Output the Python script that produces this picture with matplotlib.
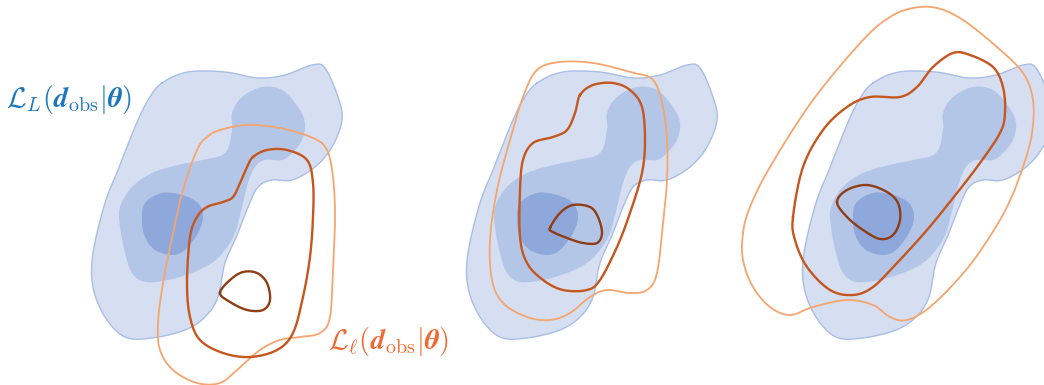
import numpy as np
import matplotlib
matplotlib.use("Agg")
import matplotlib.pyplot as plt

plt.rcParams['mathtext.fontset'] = 'cm'

# ---- data: contour outlines (pixel coords of the schematic) ----
# Blue "L_L" contours, given for the middle panel; repeated with per-panel shifts
blue_outer_x = [537, 563, 600, 633, 660, 687, 700, 713, 717, 707, 690, 667, 647, 633, 623, 613, 600, 593, 580, 560, 527, 500, 480, 468, 468, 480, 493, 510, 523]
blue_outer_y = [83, 72, 72, 78, 75, 65, 68, 97, 120, 147, 167, 180, 180, 187, 207, 233, 263, 297, 317, 330, 338, 337, 317, 287, 253, 203, 170, 127, 100]
blue_mid_x = [607, 617, 637, 657, 673, 680, 677, 667, 657, 640, 630, 623, 617, 610, 600, 587, 567, 543, 520, 507, 500, 495, 495, 507, 527, 553, 577, 600, 607]
blue_mid_y = [113, 97, 87, 90, 107, 123, 140, 153, 160, 160, 167, 183, 207, 233, 250, 263, 273, 280, 282, 273, 253, 227, 207, 187, 173, 165, 160, 153, 130]
blue_core_x = [520, 537, 557, 573, 578, 573, 560, 547, 530, 520, 517]
blue_core_y = [203, 193, 195, 203, 217, 233, 250, 255, 250, 237, 220]
panel_shift = [-375, 0, 336]

# Orange "L_ell" contours, one set per panel
p1_light_x = [220, 247, 280, 313, 327, 333, 335, 333, 330, 320, 300, 280, 260, 237, 220, 197, 173, 160, 158, 163, 173, 183, 197, 207]
p1_light_y = [130, 125, 128, 138, 150, 177, 217, 267, 317, 333, 337, 340, 350, 370, 383, 383, 370, 350, 323, 283, 233, 190, 150, 137]
p1_dark_x = [253, 267, 287, 307, 313, 313, 310, 303, 293, 277, 250, 223, 200, 190, 187, 190, 197, 207, 223, 233, 240, 247]
p1_dark_y = [157, 150, 150, 160, 183, 217, 257, 297, 333, 350, 357, 353, 340, 317, 283, 237, 217, 207, 202, 197, 183, 167]
p1_core_x = [220, 230, 243, 257, 267, 270, 263, 247, 230]
p1_core_y = [293, 280, 272, 273, 283, 300, 310, 310, 302]

p2_light_x = [537, 560, 593, 630, 653, 663, 667, 667, 663, 657, 647, 630, 607, 590, 570, 550, 527, 503, 492, 490, 497, 510, 523]
p2_light_y = [70, 62, 63, 72, 80, 107, 140, 180, 223, 273, 290, 293, 290, 297, 313, 320, 317, 303, 280, 240, 190, 140, 97]
p2_dark_x = [580, 593, 613, 630, 642, 645, 642, 630, 617, 600, 587, 563, 543, 527, 520, 520, 523, 533, 553, 567, 575]
p2_dark_y = [95, 85, 83, 90, 107, 140, 173, 213, 247, 280, 290, 290, 280, 263, 237, 190, 160, 143, 137, 130, 113]
p2_core_x = [550, 560, 573, 590, 598, 602, 597, 583, 567, 553]
p2_core_y = [228, 213, 205, 207, 217, 233, 243, 243, 238, 232]

p3_light_x = [743, 750, 770, 813, 863, 890, 913, 937, 963, 997, 1023, 1033, 1032, 1023, 1007, 983, 960, 930, 907, 890, 873, 847, 813, 790, 770, 753, 743]
p3_light_y = [233, 207, 167, 100, 40, 17, 8, 8, 20, 47, 73, 100, 133, 167, 207, 247, 277, 307, 320, 317, 305, 300, 307, 315, 307, 287, 260]
p3_dark_x = [793, 803, 823, 847, 870, 900, 917, 933, 953, 970, 993, 1003, 1005, 1000, 980, 957, 927, 897, 873, 853, 830, 807, 795]
p3_dark_y = [217, 167, 130, 107, 97, 97, 87, 67, 53, 55, 67, 87, 113, 133, 163, 193, 230, 263, 287, 295, 290, 267, 240]
p3_core_x = [837, 847, 867, 887, 898, 900, 893, 880, 863, 847]
p3_core_y = [202, 190, 185, 192, 203, 220, 235, 239, 230, 217]

label_big = r'$\mathcal{L}_L(\boldsymbol{d}_{\rm obs}|\boldsymbol{\theta})$'
label_small = r'$\mathcal{L}_\ell(\boldsymbol{d}_{\rm obs}|\boldsymbol{\theta})$'


def smooth_closed(xs, ys, n=24):
    """Periodic Catmull-Rom spline through the outline points."""
    P = np.column_stack([xs, ys]).astype(float)
    m = len(P)
    out = []
    t = np.linspace(0, 1, n, endpoint=False)[:, None]
    for i in range(m):
        p0, p1, p2, p3 = P[(i - 1) % m], P[i], P[(i + 1) % m], P[(i + 2) % m]
        seg = 0.5 * ((2 * p1) + (-p0 + p2) * t + (2 * p0 - 5 * p1 + 4 * p2 - p3) * t ** 2
                     + (-p0 + 3 * p1 - 3 * p2 + p3) * t ** 3)
        out.append(seg)
    out = np.vstack(out)
    return np.vstack([out, out[:1]])


fig = plt.figure(figsize=(10.44, 3.85), dpi=100)
ax = fig.add_axes([0, 0, 1, 1])
ax.set_xlim(0, 1044)
ax.set_ylim(385, 0)
ax.axis('off')

c_outer, c_edge = '#D6DFF1', '#A9BEE5'
c_mid, c_core = '#B4C6E7', '#8FA8DB'
c_light, c_dark, c_inner = '#F5A56E', '#C5571E', '#8F3D14'

for dx in panel_shift:
    s = smooth_closed(np.array(blue_outer_x) + dx, blue_outer_y)
    ax.fill(s[:, 0], s[:, 1], color=c_outer, lw=0, zorder=1)
    ax.plot(s[:, 0], s[:, 1], color=c_edge, lw=1.0, zorder=1.5)
    s = smooth_closed(np.array(blue_mid_x) + dx, blue_mid_y)
    ax.fill(s[:, 0], s[:, 1], color=c_mid, lw=0, zorder=2)
    s = smooth_closed(np.array(blue_core_x) + dx, blue_core_y)
    ax.fill(s[:, 0], s[:, 1], color=c_core, lw=0, zorder=3)

panels = [
    (p1_light_x, p1_light_y, p1_dark_x, p1_dark_y, p1_core_x, p1_core_y),
    (p2_light_x, p2_light_y, p2_dark_x, p2_dark_y, p2_core_x, p2_core_y),
    (p3_light_x, p3_light_y, p3_dark_x, p3_dark_y, p3_core_x, p3_core_y),
]
for lx, ly, dkx, dky, cx, cy in panels:
    s = smooth_closed(lx, ly)
    ax.plot(s[:, 0], s[:, 1], color=c_light, lw=1.3, zorder=4)
    s = smooth_closed(dkx, dky)
    ax.plot(s[:, 0], s[:, 1], color=c_dark, lw=1.7, zorder=5)
    s = smooth_closed(cx, cy)
    ax.plot(s[:, 0], s[:, 1], color=c_inner, lw=1.7, zorder=6)

ax.text(6, 100, label_big, color='#1C76BD', fontsize=20.5, va='center', ha='left', zorder=7)
ax.text(328, 341, label_small, color='#EF6A33', fontsize=20.5, va='center', ha='left', zorder=7)

fig.savefig('out.png', dpi=100)
